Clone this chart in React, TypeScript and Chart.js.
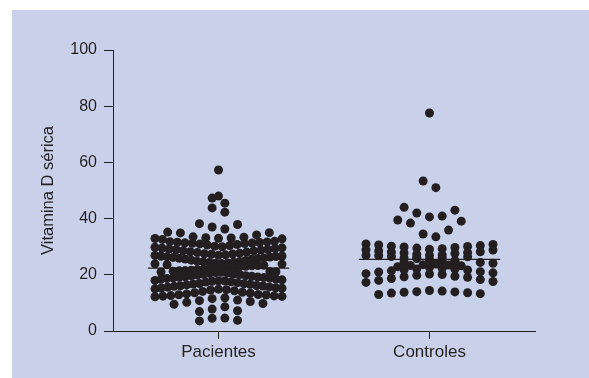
import React, { useEffect, useRef } from 'react';
import { Chart, registerables } from 'chart.js';

Chart.register(...registerables);

const CATEGORIES = ['Pacientes', 'Controles'];
const Y_MIN = 0;
const Y_MAX = 100;
const Y_STEP = 20;
const Y_TITLE = 'Vitamina D sérica';

const PACIENTES = [
  57.3, 48.0, 47.3, 45.5, 43.8, 42.3, 38.2, 37.9, 37.0, 36.3, 35.2, 34.9, 35.0, 34.2,
  33.5, 33.2, 33.0, 32.8, 33.4, 33.1, 32.6, 32.9,
  31.8, 31.5, 31.2, 31.6, 31.9, 31.4, 31.0, 31.7, 31.3, 31.1,
  30.6, 30.2, 29.8, 30.4, 29.5, 30.0, 29.2, 28.8, 29.6, 28.5, 30.8, 29.0, 28.2, 28.9, 29.3, 28.6, 28.1,
  27.7, 27.3, 26.9, 27.5, 26.5, 27.0, 26.2, 25.8, 26.7, 25.5, 27.9, 26.0, 25.2, 25.9, 26.4, 27.1, 27.4, 26.6, 25.6, 25.1, 26.3,
  24.8, 24.4, 24.0, 23.6, 24.6, 23.2, 22.9, 23.9, 22.6, 24.2, 23.4, 22.5, 24.7, 23.0, 24.5, 23.8, 23.3, 24.1,
  22.2, 21.8, 21.5, 22.0, 21.2, 20.8, 21.6, 20.5, 21.0, 22.1, 20.3, 21.4, 20.9, 21.9, 20.1, 21.1, 21.3, 20.6, 20.2,
  19.7, 19.3, 18.9, 19.5, 18.5, 19.0, 18.2, 17.8, 18.7, 17.5, 19.9, 18.0, 17.2, 17.9, 18.4, 19.1, 19.6, 18.8, 17.7, 19.2, 17.4,
  16.8, 16.4, 16.0, 15.6, 16.6, 15.2, 14.9, 15.9, 14.6, 16.2, 15.4, 14.3, 16.7, 15.0, 14.1, 15.7, 16.9, 16.1, 15.3, 14.7,
  13.8, 13.5, 13.0, 12.6, 12.4, 12.8, 13.2, 12.2, 13.6, 12.5, 12.9, 12.3,
  11.5, 10.8, 10.2, 9.8, 11.0, 9.5, 10.5, 11.8, 8.6,
  7.8, 6.9, 7.2, 4.6, 3.6, 3.8, 4.5,
];

const CONTROLES = [
  77.6, 53.4, 51.0, 44.0, 43.0, 42.0, 40.9, 40.6, 39.5, 39.1, 38.4, 35.9, 34.5, 33.5,
  31.0, 30.6, 30.8, 30.2, 30.4, 29.9, 29.5, 29.7, 29.1, 28.8, 28.5, 28.9, 28.2, 27.9, 27.6,
  27.8, 27.3, 27.0, 26.8, 26.5, 26.9, 26.2, 26.0, 25.8, 26.4, 30.1, 29.3, 28.1, 27.1, 26.1,
  25.5, 25.2, 25.0, 24.7, 24.4, 24.9, 24.1, 23.8, 23.5, 23.2, 23.6, 22.9, 22.6, 22.3, 22.0,
  21.7, 21.4, 21.8, 21.0, 20.7, 20.4, 20.1, 19.8, 20.3, 19.5, 19.1, 18.7, 18.3, 17.6, 17.3,
  24.6, 23.3, 22.1, 21.1, 19.3, 18.0,
  13.5, 14.2, 13.8, 13.0, 13.6, 14.0, 13.3, 14.4, 13.9,
];

const INK = '#231f20';
const BG = '#c9d1ea';
const FONT = "'Liberation Sans', Arial, Helvetica, sans-serif";

const STEP = 0.0602;
const MAX_SLOTS = 11;
const HALF_LINE = 0.335;

function median(arr: number[]) {
  const s = [...arr].sort((a, b) => a - b);
  const m = Math.floor(s.length / 2);
  return s.length % 2 ? s[m] : (s[m - 1] + s[m]) / 2;
}

function centerOut(n: number, s: number) {
  const offs: number[] = [];
  for (let k = 0; k < n; k++) offs.push((k - (n - 1) / 2) * s);
  return offs.sort((a, b) => Math.abs(a) - Math.abs(b) || b - a);
}

// Points in a value bin are spread horizontally; values farthest from the
// group median go outermost.
// 'compress': one row per bin, squeezed to fit the column width.
// 'wrap': fixed-spacing slots filled in passes (columns), extreme values first.
function swarm(values: number[], center: number, binSize: number, mode: 'wrap' | 'compress') {
  const med = median(values);
  const bins = new Map<number, number[]>();
  values.forEach((v) => {
    const k = Math.floor(v / binSize);
    if (!bins.has(k)) bins.set(k, []);
    bins.get(k)!.push(v);
  });
  const pts: { x: number; y: number }[] = [];
  bins.forEach((vals) => {
    const n = vals.length;
    if (mode === 'wrap') {
      const sorted = [...vals].sort((a, b) => Math.abs(b - med) - Math.abs(a - med));
      const cols = Math.min(n, MAX_SLOTS);
      sorted.forEach((v, i) => {
        const pass = Math.floor(i / cols);
        const within = i % cols;
        const inPass = Math.min(cols, n - pass * cols);
        const offs = centerOut(inPass, STEP).reverse();
        pts.push({ x: center + offs[within], y: v });
      });
    } else {
      const sorted = [...vals].sort((a, b) => Math.abs(a - med) - Math.abs(b - med));
      const s = n > MAX_SLOTS ? (STEP * (MAX_SLOTS - 1)) / (n - 1) : STEP;
      const offs = centerOut(n, s);
      sorted.forEach((v, i) => pts.push({ x: center + offs[i], y: v }));
    }
  });
  return pts;
}

const axisExtension = {
  id: 'axisExtension',
  afterDraw(chart: any) {
    const { ctx, chartArea } = chart;
    ctx.save();
    ctx.strokeStyle = INK;
    ctx.lineWidth = 1;
    ctx.beginPath();
    const y = Math.round(chartArea.bottom) + 0.5;
    ctx.moveTo(chartArea.left - 9, y);
    ctx.lineTo(chartArea.left, y);
    ctx.stroke();
    ctx.restore();
  },
};

export default function App() {
  const ref = useRef<HTMLCanvasElement>(null);
  useEffect(() => {
    const medP = median(PACIENTES);
    const medC = median(CONTROLES);
    const lineDs = (c: number, m: number) => ({
      type: 'line' as const,
      data: [
        { x: c - HALF_LINE, y: m },
        { x: c + HALF_LINE, y: m },
      ],
      borderColor: INK,
      borderWidth: 1.2,
      pointRadius: 0,
      fill: false,
      order: 0,
    });
    const dotDs = (data: any[]) => ({
      type: 'scatter' as const,
      data,
      backgroundColor: INK,
      borderWidth: 0,
      pointRadius: 4.5,
      order: 1,
    });
    const chart = new Chart(ref.current!, {
      type: 'scatter',
      data: {
        datasets: [
          lineDs(1, medP),
          lineDs(2, medC),
          dotDs(swarm(PACIENTES, 1, 3, 'compress')),
          dotDs(swarm(CONTROLES, 2, 8, 'wrap')),
        ] as any,
      },
      options: {
        animation: false,
        responsive: false,
        devicePixelRatio: 1,
        layout: { padding: { left: 39, right: 54, top: 50, bottom: 17 } },
        plugins: { legend: { display: false }, tooltip: { enabled: false } },
        scales: {
          x: {
            type: 'linear',
            min: 0.5,
            max: 2.5,
            afterBuildTicks: (scale: any) => {
              scale.ticks = CATEGORIES.map((_, i) => ({ value: i + 1 }));
            },
            afterFit: (scale: any) => {
              scale.height = 30;
            },
            ticks: {
              callback: (v: any) => CATEGORIES[Number(v) - 1] ?? '',
              color: INK,
              font: { family: FONT, size: 17 },
              padding: 3,
              maxRotation: 0,
            },
            grid: { drawOnChartArea: false, tickLength: 8, color: INK, lineWidth: 1 },
            border: { display: true, color: INK, width: 1 },
          },
          y: {
            type: 'linear',
            min: Y_MIN,
            max: Y_MAX,
            afterFit: (scale: any) => {
              scale.width = 74;
            },
            ticks: {
              stepSize: Y_STEP,
              color: INK,
              font: { family: FONT, size: 16 },
              padding: 7,
            },
            grid: { drawOnChartArea: false, tickLength: 9, color: INK, lineWidth: 1 },
            border: { display: true, color: INK, width: 1 },
            title: {
              display: true,
              text: Y_TITLE,
              color: INK,
              font: { family: FONT, size: 16.5 },
              padding: { top: 0, bottom: 0 },
            },
          },
        },
      },
      plugins: [axisExtension],
    });
    return () => chart.destroy();
  }, []);

  return (
    <div style={{ position: 'fixed', left: 0, top: 0, width: 589, height: 378, background: '#fff' }}>
      <div style={{ position: 'absolute', left: 12, top: 10, width: 577, height: 368, background: BG }} />
      <canvas ref={ref} width={589} height={378} style={{ position: 'absolute', left: 0, top: 0, width: 589, height: 378 }} />
    </div>
  );
}
